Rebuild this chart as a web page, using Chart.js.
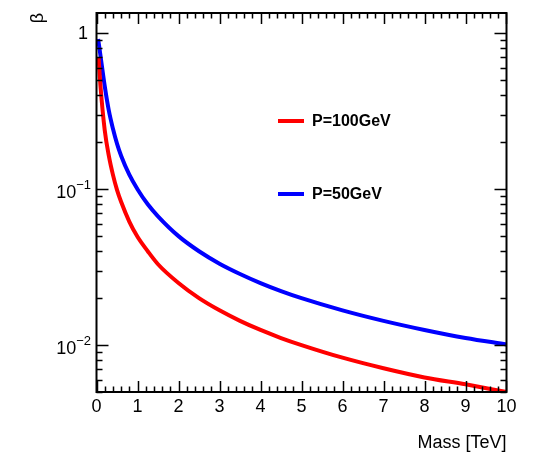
<!DOCTYPE html>
<html>
<head>
<meta charset="utf-8">
<script src="https://cdn.jsdelivr.net/npm/chart.js@4.4.0/dist/chart.umd.min.js"></script>
<style>
  html, body { margin: 0; padding: 0; background: #fff; }
  #wrap { width: 536px; height: 456px; position: relative; }
</style>
</head>
<body>
<div id="wrap"><canvas id="c"></canvas></div>
<script>
// mass points (TeV) and beta values
const massRed  = [0.05, 0.1, 0.2, 0.3, 0.4, 0.5, 0.6, 0.8, 1, 1.25, 1.5, 2, 2.5, 3, 3.5, 4, 4.5, 5, 6, 7, 8, 9, 10];
const betaRed  = [0.70, 0.45, 0.24, 0.164, 0.124, 0.099, 0.083, 0.062, 0.0495, 0.040, 0.033, 0.025, 0.020, 0.0167, 0.0143, 0.0125, 0.0111, 0.0100, 0.0083, 0.0071, 0.0062, 0.0056, 0.0050];
const massBlue = [0.04, 0.1, 0.2, 0.3, 0.4, 0.5, 0.6, 0.8, 1, 1.25, 1.5, 2, 2.5, 3, 3.5, 4, 4.5, 5, 6, 7, 8, 9, 10];
const betaBlue = [0.92, 0.71, 0.46, 0.32, 0.245, 0.196, 0.164, 0.124, 0.100, 0.080, 0.067, 0.050, 0.040, 0.0333, 0.0286, 0.0250, 0.0222, 0.0200, 0.0167, 0.0143, 0.0125, 0.0111, 0.0101];
const seriesLabels = ['P=100GeV', 'P=50GeV'];
const xTicks = [0, 1, 2, 3, 4, 5, 6, 7, 8, 9, 10];
const yTicks = [1, 0.1, 0.01];
const yTickLabels = [['1', ''], ['10', '\u22121'], ['10', '\u22122']];

const FONT = '"Liberation Sans", Arial, Helvetica, sans-serif';

const rootFrame = {
  id: 'rootFrame',
  afterDraw(chart) {
    const { ctx, chartArea: a, scales: { x, y } } = chart;
    ctx.save();
    ctx.strokeStyle = '#000';
    ctx.fillStyle = '#000';

    // ticks inside the frame
    ctx.lineWidth = 1.5;
    ctx.beginPath();
    for (let v = 0; v <= 10.001; v += 0.2) {
      const px = Math.round(x.getPixelForValue(v)) + 0.5;
      const major = Math.abs(v - Math.round(v)) < 1e-6;
      const len = major ? 11 : 5.5;
      ctx.moveTo(px, a.bottom); ctx.lineTo(px, a.bottom - len);
      ctx.moveTo(px, a.top); ctx.lineTo(px, a.top + len);
    }
    for (let d = -3; d <= 0; d++) {
      for (let k = 1; k <= 9; k++) {
        const v = k * Math.pow(10, d);
        if (v < y.min || v > y.max) continue;
        const py = Math.round(y.getPixelForValue(v)) + 0.5;
        const len = k === 1 ? 12 : 6;
        ctx.moveTo(a.left, py); ctx.lineTo(a.left + len, py);
        ctx.moveTo(a.right, py); ctx.lineTo(a.right - len, py);
      }
    }
    ctx.stroke();

    // frame
    ctx.lineWidth = 2;
    ctx.strokeRect(a.left, a.top, a.right - a.left, a.bottom - a.top);

    // x tick labels
    ctx.font = '18px ' + FONT;
    ctx.textAlign = 'center';
    ctx.textBaseline = 'middle';
    xTicks.forEach(v => ctx.fillText(String(v), x.getPixelForValue(v), 407));

    // y tick labels
    yTicks.forEach((v, i) => {
      const py = y.getPixelForValue(v);
      const [base, sup] = yTickLabels[i];
      ctx.textBaseline = 'middle';
      if (!sup) {
        ctx.font = '18px ' + FONT;
        ctx.textAlign = 'right';
        ctx.fillText(base, 88, py + 1);
      } else {
        ctx.font = '13px ' + FONT;
        ctx.textAlign = 'right';
        ctx.fillText(sup, 91, py - 4);
        const sw = ctx.measureText(sup).width;
        ctx.font = '18px ' + FONT;
        ctx.fillText(base, 91 - sw, py + 4);
      }
    });

    // axis titles
    ctx.font = '18px ' + FONT;
    ctx.textAlign = 'right';
    ctx.textBaseline = 'middle';
    ctx.fillText('Mass [TeV]', a.right, 443);
    ctx.save();
    ctx.translate(38, 13);
    ctx.rotate(-Math.PI / 2);
    ctx.textAlign = 'right';
    ctx.fillText('\u03b2', 0, 0);
    ctx.restore();

    // legend
    const items = [
      { label: seriesLabels[0], color: '#ff0000', y: 121 },
      { label: seriesLabels[1], color: '#0000ff', y: 194 }
    ];
    ctx.font = 'bold 16px ' + FONT;
    ctx.textAlign = 'left';
    items.forEach(it => {
      ctx.strokeStyle = it.color;
      ctx.lineWidth = 4;
      ctx.beginPath();
      ctx.moveTo(278, it.y); ctx.lineTo(304, it.y);
      ctx.stroke();
      ctx.fillStyle = '#000';
      ctx.fillText(it.label, 312, it.y + 1);
    });
    ctx.restore();
  }
};

new Chart(document.getElementById('c'), {
  type: 'line',
  data: {
    datasets: [
      {
        label: seriesLabels[0],
        data: massRed.map((m, i) => ({ x: m, y: betaRed[i] })),
        borderColor: '#ff0000',
        borderWidth: 4,
        pointRadius: 0,
        cubicInterpolationMode: 'monotone',
        fill: false
      },
      {
        label: seriesLabels[1],
        data: massBlue.map((m, i) => ({ x: m, y: betaBlue[i] })),
        borderColor: '#0000ff',
        borderWidth: 4,
        pointRadius: 0,
        cubicInterpolationMode: 'monotone',
        fill: false
      }
    ]
  },
  options: {
    responsive: true,
    maintainAspectRatio: false,
    animation: false,
    layout: { padding: { left: 96.5, right: 29.5, top: 13, bottom: 64 } },
    plugins: { legend: { display: false }, tooltip: { enabled: false } },
    scales: {
      x: { type: 'linear', min: 0, max: 10, display: false },
      y: { type: 'logarithmic', min: 0.005, max: 1.35, display: false }
    }
  },
  plugins: [rootFrame]
});
</script>
</body>
</html>
